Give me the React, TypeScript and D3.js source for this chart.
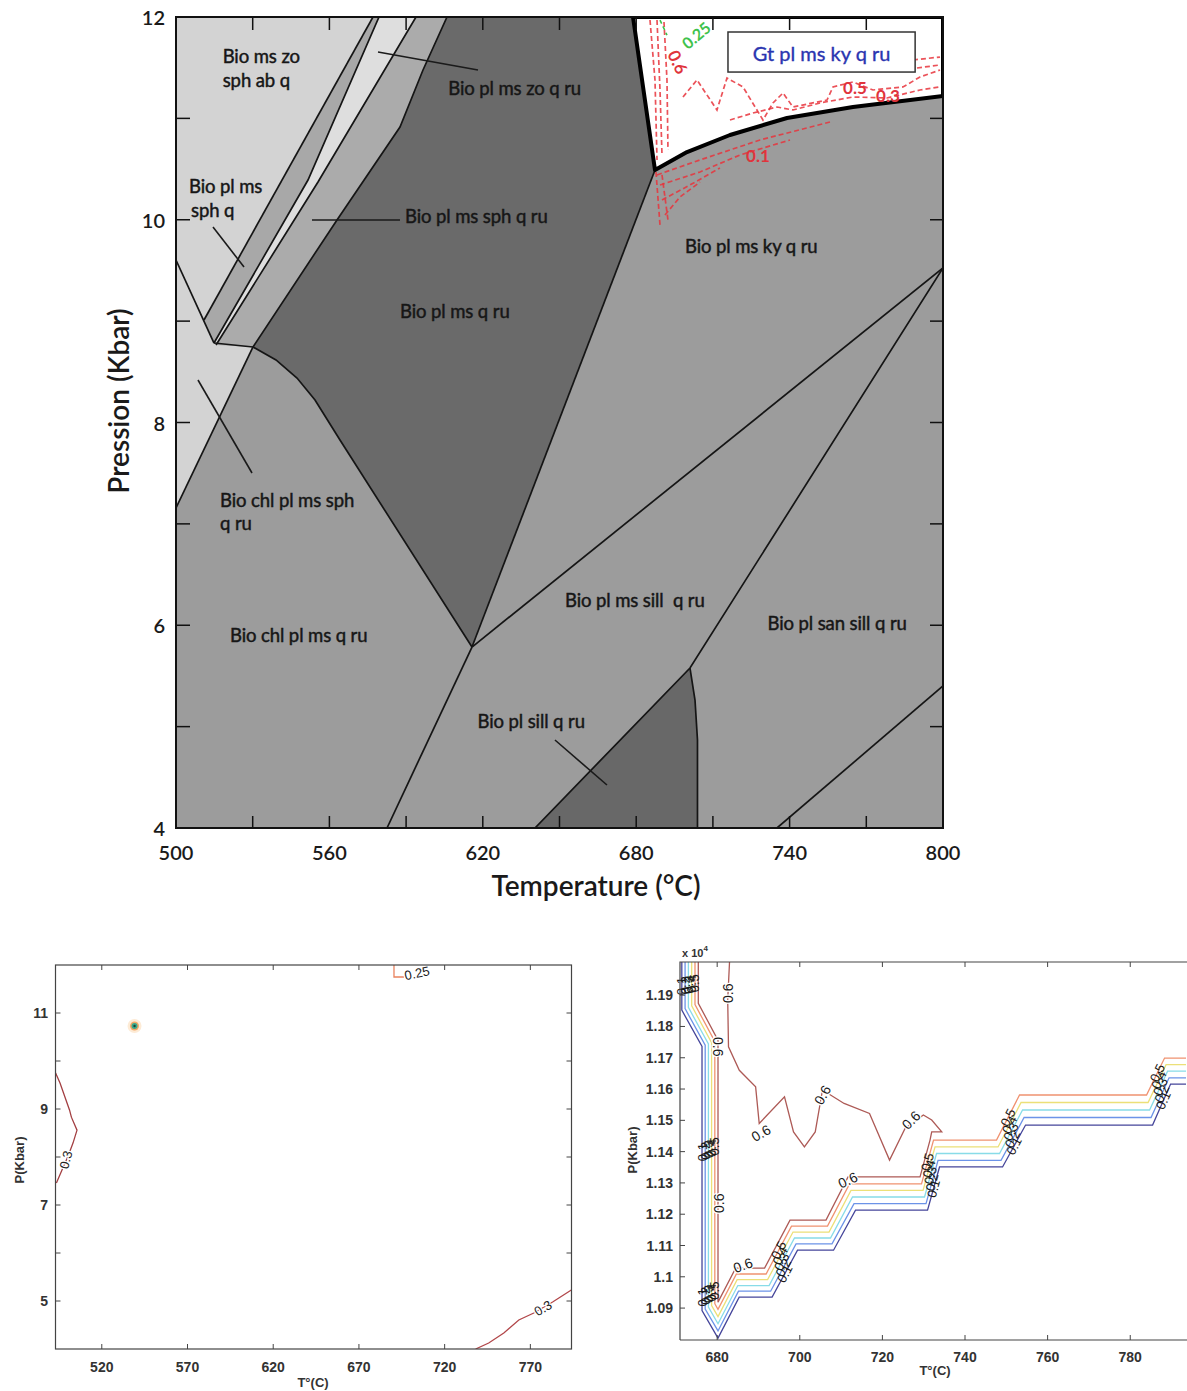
import React from "react";
import * as d3 from "d3";

/* ================= TOP CHART : pseudosection ================= */
const topXTicks = [500, 530, 560, 590, 620, 650, 680, 710, 740, 770, 800];
const topXLabels = [500, 560, 620, 680, 740, 800];
const topYTicks = [4, 5, 6, 7, 8, 9, 10, 11, 12];
const topYLabels = [4, 6, 8, 10, 12];

// fields (T in °C, P in kbar)
const fieldLightTopT = [500, 577.05, 510.95, 500];
const fieldLightTopP = [12, 12, 9.011, 9.603];
const fieldLightMidT = [500, 514.86, 530.12, 500];
const fieldLightMidP = [9.603, 8.784, 8.745, 7.157];
const fieldStripT = [514.86, 551.63, 579.4, 593.87, 555.54, 515.65];
const fieldStripP = [8.784, 10.392, 12, 12, 10.372, 8.765];
const fieldSphT = [510.95, 577.05, 579.4, 551.63, 514.86];
const fieldSphP = [9.011, 12, 12, 10.392, 8.784];
const fieldZoT = [515.65, 555.54, 593.87, 606.0, 596.61, 587.61, 562.97, 530.12];
const fieldZoP = [8.765, 10.372, 12, 12, 11.477, 10.915, 9.998, 8.745];
const fieldRuT = [530.12, 562.97, 587.61, 596.61, 606.0, 678.75, 687.35, 615.77, 564.14, 554.37, 547.33, 539.11];
const fieldRuP = [8.745, 9.998, 10.915, 11.477, 12, 12, 10.491, 5.785, 7.827, 8.222, 8.439, 8.617];
const fieldSillT = [640.41, 701.04, 703.0, 703.97, 703.97];
const fieldSillP = [4, 5.578, 5.262, 4.868, 4];
const fieldGtT = [678.75, 800, 800, 764.79, 738.98, 716.68, 699.87, 687.35];
const fieldGtP = [12, 12, 11.221, 11.112, 11.004, 10.836, 10.668, 10.491];

// reaction lines
const lineL0T = [500, 514.86];
const lineL0P = [9.603, 8.784];
const lineHT = [514.86, 530.12];
const lineHP = [8.784, 8.745];
const lineAT = [510.95, 577.05];
const lineAP = [9.011, 12];
const lineBT = [514.86, 551.63, 579.4];
const lineBP = [8.784, 10.392, 12];
const lineCT = [515.65, 555.54, 593.87];
const lineCP = [8.765, 10.372, 12];
const lineDT = [530.12, 562.97, 587.61, 596.61, 606.0];
const lineDP = [8.745, 9.998, 10.915, 11.477, 12];
const lineChlT = [500, 530.12];
const lineChlP = [7.157, 8.745];
const lineVLT = [530.12, 539.11, 547.33, 554.37, 564.14, 615.77];
const lineVLP = [8.745, 8.617, 8.439, 8.222, 7.827, 5.785];
const lineVRT = [687.35, 615.77];
const lineVRP = [10.491, 5.785];
const lineKyT = [615.77, 800];
const lineKyP = [5.785, 9.524];
const lineLowT = [615.77, 582.53];
const lineLowP = [5.785, 4];
const lineSanT = [800, 701.04, 640.41];
const lineSanP = [9.524, 5.578, 4];
const lineTriT = [701.04, 703.0, 703.97, 703.97];
const lineTriP = [5.578, 5.262, 4.868, 4];
const lineBrT = [735.07, 800];
const lineBrP = [4, 5.401];

// leader lines
const leaderT0 = [579.01, 514.47, 553.19, 508.6, 648.23];
const leaderP0 = [11.655, 9.928, 9.998, 8.419, 4.868];
const leaderT1 = [618.12, 526.6, 587.61, 529.73, 668.57];
const leaderP1 = [11.477, 9.534, 9.998, 7.502, 4.424];

// field names
const phaseNames = ["Bio ms zo", "sph ab q", "Bio pl ms zo q ru", "Bio pl ms", "sph q", "Bio pl ms sph q ru",
  "Bio pl ms q ru", "Bio pl ms ky q ru", "Bio chl pl ms sph", "q ru", "Bio chl pl ms q ru",
  "Bio pl ms sill  q ru", "Bio pl san sill q ru", "Bio pl sill q ru"];
const phaseT = [518.27, 518.27, 606.5, 505.08, 505.87, 589.57, 587.61, 699.08, 517.21, 517.21, 521.12, 652.15, 731.36, 617.93];
const phaseP = [11.546, 11.309, 11.231, 10.264, 10.027, 9.968, 9.031, 9.672, 7.166, 6.94, 5.835, 6.18, 5.953, 4.986];

// garnet box
const gtBoxT = [715.9, 789.1];
const gtBoxP = [11.852, 11.457];
const gtBoxText = "Gt pl ms ky q ru";

// red dashed isopleths in / near the garnet field
const isoV1T = [685.4, 687.35, 688.14];
const isoV1P = [11.97, 11.379, 10.59];
const isoV2T = [688.14, 689.31, 690.09];
const isoV2P = [11.97, 11.28, 10.639];
const isoV3T = [690.87, 692.04, 692.43];
const isoV3P = [11.951, 11.379, 10.688];
const isoW1T = [698.3, 703.77, 711.59, 715.51, 721.77, 729.59, 733.5, 737.41, 741.33, 754.62, 756.97, 764.79, 772.61, 784.35, 791.0, 798.82];
const isoW1P = [11.211, 11.379, 11.083, 11.398, 11.31, 10.984, 11.152, 11.25, 11.112, 11.181, 11.31, 11.359, 11.28, 11.31, 11.408, 11.477];
const isoW2T = [716.68, 725.68, 735.07, 741.33, 751.89, 764.79, 778.09, 791.0, 798.82];
const isoW2P = [10.984, 11.053, 11.112, 11.083, 11.152, 11.211, 11.201, 11.28, 11.31];
const isoW3T = [788.26, 798.82];
const isoW3P = [11.576, 11.605];
const isoW4T = [789.83, 798.82];
const isoW4P = [11.497, 11.527];
const isoB1T = [688.14, 704.95, 728.42, 755.8];
const isoB1P = [10.442, 10.59, 10.787, 10.964];
const isoB2T = [689.31, 704.95, 720.59, 740.15];
const isoB2P = [10.343, 10.471, 10.639, 10.787];
const isoB3T = [690.09, 701.04, 712.77];
const isoB3P = [10.195, 10.343, 10.511];
const isoB4T = [691.26, 697.13, 704.95];
const isoB4P = [10.047, 10.225, 10.372];
const isoBV1T = [687.74, 689.31];
const isoBV1P = [10.471, 9.949];
const isoBV2T = [690.09, 692.43];
const isoBV2P = [10.442, 9.998];
const isoGreenT = [689.31, 692.04];
const isoGreenP = [11.97, 11.822];
const isoLabels = ["0.6", "0.5", "0.3", "0.1"];
const isoLabelT = [696.35, 765.57, 778.48, 727.63];
const isoLabelP = [11.556, 11.3, 11.221, 10.629];
const isoLabelRot = [65, 0, 0, 0];
const isoGreenLabel = "0.25";
const isoGreenLabelT = 703.35;
const isoGreenLabelP = 11.822;

/* ================= BOTTOM LEFT ================= */
const blXTicks = [520, 570, 620, 670, 720, 770];
const blYTicks = [5, 6, 7, 8, 9, 10, 11];
const blYLabels = [5, 7, 9, 11];
const bl03aT = [493.06, 495.63, 501.17, 502.27, 505.54, 503.21, 500.12, 496.79, 493.53];
const bl03aP = [9.75, 9.54, 8.98, 8.83, 8.56, 8.29, 8.0, 7.73, 7.46];
const bl03bT = [738.06, 745.7, 754.51, 763.26, 772.01, 782.98, 793.9];
const bl03bP = [4.0, 4.125, 4.333, 4.604, 4.75, 4.979, 5.229];
const bl025T = [690.45, 690.45, 696.3];
const bl025P = [12, 11.75, 11.75];
const blLabels = ["0.3", "0.3", "0.25"];
const blLabelT = [499.1, 777.4, 703.9];
const blLabelP = [7.94, 4.85, 11.83];
const blLabelRot = [-75, -30, -12];
const blDotT = 539.1;
const blDotP = 10.73;

/* ================= BOTTOM RIGHT ================= */
const brXTicks = [680, 700, 720, 740, 760, 780];
const brYTicks = [1.09, 1.1, 1.11, 1.12, 1.13, 1.14, 1.15, 1.16, 1.17, 1.18, 1.19];
const brYLabels = ["1.09", "1.1", "1.11", "1.12", "1.13", "1.14", "1.15", "1.16", "1.17", "1.18", "1.19"];

const br06T = [675.43, 675.43, 680.2, 680.2, 684.49, 691.48, 697.63, 706.35, 711.68, 729.11, 731.53, 731.94, 734.37, 731.94, 729.91, 725.48, 721.73, 716.88, 710.73, 705.5, 703.74, 701.12, 698.48, 696.3, 690.18, 689.31, 685.36, 682.74, 682.55, 682.99];
const br06P = [1.2006, 1.1874, 1.1756, 1.0919, 1.1028, 1.1028, 1.1181, 1.1181, 1.1319, 1.1319, 1.1437, 1.1463, 1.1463, 1.1501, 1.1517, 1.1474, 1.1373, 1.1522, 1.1554, 1.1597, 1.1463, 1.1415, 1.1463, 1.1575, 1.149, 1.1607, 1.166, 1.1735, 1.1884, 1.2006];
const br05T = [674.63, 674.63, 679.43, 679.43, 680.2, 684.66, 691.85, 697.99, 706.71, 712.04, 729.47, 732.38, 747.63, 753.2, 783.95, 788.31, 793.5];
const br05P = [1.2006, 1.187, 1.1752, 1.0914, 1.0896, 1.1009, 1.1009, 1.1162, 1.1162, 1.1297, 1.1297, 1.1437, 1.1437, 1.1581, 1.1581, 1.1699, 1.1699];
const br04T = [673.83, 673.83, 678.65, 678.65, 680.2, 684.83, 692.21, 698.36, 707.08, 712.4, 729.84, 732.74, 748.0, 753.57, 784.32, 788.67, 793.5];
const br04P = [1.2006, 1.1866, 1.1748, 1.0908, 1.0873, 1.0991, 1.0991, 1.1143, 1.1143, 1.1276, 1.1276, 1.1415, 1.1415, 1.1557, 1.1557, 1.1678, 1.1678];
const br03T = [673.03, 673.03, 677.88, 677.88, 680.2, 685.0, 692.57, 698.72, 707.44, 712.77, 730.2, 733.11, 748.36, 753.93, 784.68, 789.04, 793.5];
const br03P = [1.2006, 1.1861, 1.1744, 1.0903, 1.085, 1.0972, 1.0972, 1.1124, 1.1124, 1.1255, 1.1255, 1.1394, 1.1394, 1.1533, 1.1533, 1.1657, 1.1657];
const br02T = [672.23, 672.23, 677.1, 677.1, 680.2, 685.16, 692.94, 699.09, 707.8, 713.13, 730.56, 733.47, 748.72, 754.3, 785.04, 789.4, 793.5];
const br02P = [1.2006, 1.1857, 1.174, 1.0897, 1.0827, 1.0954, 1.0954, 1.1105, 1.1105, 1.1234, 1.1234, 1.1372, 1.1372, 1.1509, 1.1509, 1.1636, 1.1636];
const br01T = [671.44, 671.44, 676.33, 676.33, 680.2, 685.33, 693.3, 699.45, 708.17, 713.49, 730.93, 733.83, 749.09, 754.66, 785.41, 789.77, 793.5];
const br01P = [1.2006, 1.1852, 1.1736, 1.0892, 1.0804, 1.0935, 1.0935, 1.1085, 1.1085, 1.1213, 1.1213, 1.1351, 1.1351, 1.1485, 1.1485, 1.1616, 1.1616];
const brLevelNames = ["0.1", "0.2", "0.3", "0.4", "0.5"];
// label clusters: segment index and fraction along it
const brClusterSeg = [0, 2, 2, 6, 10, 12, 14];
const brClusterFrac = [0.5, 0.4, 0.95, 0.5, 0.5, 0.5, 0.6];
const br06LabelT = [682.55, 680.1, 680.54, 690.61, 705.5, 726.93, 711.63, 686.25];
const br06LabelP = [1.1906, 1.1735, 1.1235, 1.1459, 1.1581, 1.1501, 1.1309, 1.1037];
const br06LabelRot = [-90, 90, -90, -30, -60, -45, -25, -20];

const FONT = "Lato, 'Open Sans', 'DejaVu Sans', sans-serif";
const SFONT = "'Liberation Sans', Arial, 'DejaVu Sans', sans-serif";

type Sc = (v: number) => number;

function toPath(Ts: number[], Ps: number[], sx: Sc, sy: Sc, closed = false): string {
  const d = d3.line()(Ts.map((t, i) => [sx(t), sy(Ps[i])] as [number, number])) || "";
  return closed ? d + "Z" : d;
}

function labelOn(Ts: number[], Ps: number[], seg: number, f: number, sx: Sc, sy: Sc) {
  const x0 = sx(Ts[seg]), y0 = sy(Ps[seg]), x1 = sx(Ts[seg + 1]), y1 = sy(Ps[seg + 1]);
  let a = (Math.atan2(y1 - y0, x1 - x0) * 180) / Math.PI;
  if (a >= 90) a -= 180;
  if (a < -90) a += 180;
  return { x: x0 + (x1 - x0) * f, y: y0 + (y1 - y0) * f, a };
}

export default function App() {
  /* ---------- top ---------- */
  const xT = d3.scaleLinear().domain([500, 800]).range([176, 943]);
  const yT = d3.scaleLinear().domain([4, 12]).range([828, 17]);
  const fields = [
    { T: fieldLightTopT, P: fieldLightTopP, fill: "#d3d3d3" },
    { T: fieldLightMidT, P: fieldLightMidP, fill: "#d3d3d3" },
    { T: fieldStripT, P: fieldStripP, fill: "#dedede" },
    { T: fieldSphT, P: fieldSphP, fill: "#a8a8a8" },
    { T: fieldZoT, P: fieldZoP, fill: "#ababab" },
    { T: fieldRuT, P: fieldRuP, fill: "#6a6a6a" },
    { T: fieldSillT, P: fieldSillP, fill: "#686868" },
    { T: fieldGtT, P: fieldGtP, fill: "#ffffff" },
  ];
  const lines = [
    [lineL0T, lineL0P], [lineHT, lineHP], [lineAT, lineAP], [lineBT, lineBP], [lineCT, lineCP],
    [lineDT, lineDP], [lineChlT, lineChlP], [lineVLT, lineVLP], [lineVRT, lineVRP], [lineKyT, lineKyP],
    [lineLowT, lineLowP], [lineSanT, lineSanP], [lineTriT, lineTriP], [lineBrT, lineBrP],
  ];
  const isoRed = [
    [isoV1T, isoV1P], [isoV2T, isoV2P], [isoV3T, isoV3P], [isoW1T, isoW1P], [isoW2T, isoW2P],
    [isoW3T, isoW3P], [isoW4T, isoW4P], [isoB1T, isoB1P], [isoB2T, isoB2P], [isoB3T, isoB3P],
    [isoB4T, isoB4P], [isoBV1T, isoBV1P], [isoBV2T, isoBV2P],
  ];

  /* ---------- bottom left ---------- */
  const xL = d3.scaleLinear().domain([493, 794]).range([55.5, 571.5]);
  const yL = d3.scaleLinear().domain([4, 12]).range([1349, 965]);

  /* ---------- bottom right ---------- */
  const xR = d3.scaleLinear().domain([671, 793.5]).range([680, 1186]);
  const yR = d3.scaleLinear().domain([1.0798, 1.2006]).range([1340, 962]);
  const brLevels = [
    { T: br01T, P: br01P, c: "#45459a" },
    { T: br02T, P: br02P, c: "#6c93e8" },
    { T: br03T, P: br03P, c: "#88dce8" },
    { T: br04T, P: br04P, c: "#ece078" },
    { T: br05T, P: br05P, c: "#f09270" },
  ];

  return (
    <svg width={1187} height={1391} style={{ position: "absolute", left: 0, top: 0, background: "#fff" }}>
      <defs>
        <clipPath id="topClip">
          <rect x={176} y={17} width={767} height={811} />
        </clipPath>
        <clipPath id="blClip">
          <rect x={55.5} y={965} width={516} height={384} />
        </clipPath>
        <clipPath id="brClip">
          <rect x={680} y={962} width={506} height={378} />
        </clipPath>
      </defs>

      {/* ===================== TOP CHART ===================== */}
      <g clipPath="url(#topClip)">
        <rect x={176} y={17} width={767} height={811} fill="#9c9c9c" />
        {fields.map((f, i) => (
          <path key={"f" + i} d={toPath(f.T, f.P, xT, yT, true)} fill={f.fill} stroke="none" />
        ))}
        {isoRed.map((l, i) => (
          <path key={"iso" + i} d={toPath(l[0], l[1], xT, yT)} fill="none" stroke="#e8343c"
            strokeWidth={1.7} strokeDasharray="5 3" opacity={0.85} />
        ))}
        <path d={toPath(isoGreenT, isoGreenP, xT, yT)} fill="none" stroke="#3bc24a" strokeWidth={1.6} strokeDasharray="4 3" />
        {lines.map((l, i) => (
          <path key={"l" + i} d={toPath(l[0], l[1], xT, yT)} fill="none" stroke="#151515" strokeWidth={1.7} />
        ))}
        <path d={toPath(fieldGtT, fieldGtP, xT, yT, true)} fill="none" stroke="#000" strokeWidth={4} strokeLinejoin="round" />
        {leaderT0.map((t, i) => (
          <line key={"ld" + i} x1={xT(t)} y1={yT(leaderP0[i])} x2={xT(leaderT1[i])} y2={yT(leaderP1[i])}
            stroke="#1a1a1a" strokeWidth={1.6} />
        ))}
      </g>

      {/* ticks */}
      {topXTicks.map((t) => (
        <g key={"tx" + t}>
          <line x1={xT(t)} x2={xT(t)} y1={828} y2={816} stroke="#111" strokeWidth={1.5} />
          <line x1={xT(t)} x2={xT(t)} y1={17} y2={30} stroke="#111" strokeWidth={1.5} />
        </g>
      ))}
      {topYTicks.map((p) => (
        <g key={"ty" + p}>
          <line x1={176} x2={190} y1={yT(p)} y2={yT(p)} stroke="#111" strokeWidth={1.5} />
          <line x1={943} x2={930} y1={yT(p)} y2={yT(p)} stroke="#111" strokeWidth={1.5} />
        </g>
      ))}
      <rect x={176} y={17} width={767} height={811} fill="none" stroke="#111" strokeWidth={2} />

      {/* garnet box */}
      <rect x={xT(gtBoxT[0])} y={yT(gtBoxP[0])} width={xT(gtBoxT[1]) - xT(gtBoxT[0])}
        height={yT(gtBoxP[1]) - yT(gtBoxP[0])} fill="#fff" stroke="#333" strokeWidth={1.5} />
      <text x={(xT(gtBoxT[0]) + xT(gtBoxT[1])) / 2} y={(yT(gtBoxP[0]) + yT(gtBoxP[1])) / 2 + 1}
        textAnchor="middle" dominantBaseline="central" fontFamily={FONT} fontSize={20} fill="#2a35b0"
        stroke="#2a35b0" strokeWidth={0.35}>
        {gtBoxText}
      </text>

      {/* isopleth labels */}
      {isoLabels.map((s, i) => (
        <text key={"il" + i} x={xT(isoLabelT[i])} y={yT(isoLabelP[i])} textAnchor="middle" dominantBaseline="central"
          transform={`rotate(${isoLabelRot[i]} ${xT(isoLabelT[i])} ${yT(isoLabelP[i])})`}
          fontFamily={FONT} fontSize={17} fontWeight={700} fill="#e0343c">
          {s}
        </text>
      ))}
      <text x={xT(isoGreenLabelT)} y={yT(isoGreenLabelP)} textAnchor="middle" dominantBaseline="central"
        transform={`rotate(-40 ${xT(isoGreenLabelT)} ${yT(isoGreenLabelP)})`}
        fontFamily={FONT} fontSize={16} fontWeight={700} fill="#3fc24c">
        {isoGreenLabel}
      </text>

      {/* field names */}
      {phaseNames.map((s, i) => (
        <text key={"pn" + i} x={xT(phaseT[i])} y={yT(phaseP[i])} fontFamily={FONT} fontSize={18.5}
          fill="#161616" stroke="#161616" strokeWidth={0.45} letterSpacing={-0.1} style={{ whiteSpace: "pre" }}>
          {s}
        </text>
      ))}

      {/* tick labels */}
      {topXLabels.map((t) => (
        <text key={"xl" + t} x={xT(t)} y={860} textAnchor="middle" fontFamily={FONT} fontSize={20}
          fontWeight={600} fill="#1a1a1a">
          {t}
        </text>
      ))}
      {topYLabels.map((p) => (
        <text key={"yl" + p} x={165} y={yT(p)} textAnchor="end" dominantBaseline="central" fontFamily={FONT}
          fontSize={20} fontWeight={600} fill="#1a1a1a">
          {p}
        </text>
      ))}
      <text x={596} y={896} textAnchor="middle" fontFamily={FONT} fontSize={28} fontWeight={600} fill="#1a1a1a">
        Temperature (°C)
      </text>
      <text x={118} y={401} textAnchor="middle" dominantBaseline="central" transform="rotate(-90 118 401)"
        fontFamily={FONT} fontSize={28} fontWeight={600} fill="#1a1a1a">
        Pression (Kbar)
      </text>

      {/* ===================== BOTTOM LEFT ===================== */}
      <g clipPath="url(#blClip)">
        <path d={toPath(bl03aT, bl03aP, xL, yL)} fill="none" stroke="#a33f42" strokeWidth={1.3} />
        <path d={toPath(bl03bT, bl03bP, xL, yL)} fill="none" stroke="#b2474a" strokeWidth={1.3} />
        <path d={toPath(bl025T, bl025P, xL, yL)} fill="none" stroke="#e9825e" strokeWidth={1.3} />
      </g>
      <circle cx={xL(blDotT)} cy={yL(blDotP)} r={7} fill="#fdebd6" />
      <circle cx={xL(blDotT)} cy={yL(blDotP)} r={4.5} fill="#f2a866" />
      <circle cx={xL(blDotT)} cy={yL(blDotP)} r={3} fill="#3aa88a" />
      <circle cx={xL(blDotT)} cy={yL(blDotP)} r={1.2} fill="#17453a" />
      {blLabels.map((s, i) => (
        <text key={"bll" + i} x={xL(blLabelT[i])} y={yL(blLabelP[i])} textAnchor="middle" dominantBaseline="central"
          transform={`rotate(${blLabelRot[i]} ${xL(blLabelT[i])} ${yL(blLabelP[i])})`}
          fontFamily={SFONT} fontSize={13} fill="#222" stroke="#fff" strokeWidth={2.5} paintOrder="stroke">
          {s}
        </text>
      ))}
      {blXTicks.map((t) => (
        <g key={"blx" + t}>
          <line x1={xL(t)} x2={xL(t)} y1={1349} y2={1344} stroke="#444" />
          <line x1={xL(t)} x2={xL(t)} y1={965} y2={970} stroke="#444" />
          <text x={xL(t)} y={1372} textAnchor="middle" fontFamily={SFONT} fontSize={14} fontWeight={700} fill="#333">
            {t}
          </text>
        </g>
      ))}
      {blYTicks.map((p) => (
        <g key={"bly" + p}>
          <line x1={55.5} x2={60.5} y1={yL(p)} y2={yL(p)} stroke="#444" />
          <line x1={571.5} x2={566.5} y1={yL(p)} y2={yL(p)} stroke="#444" />
        </g>
      ))}
      {blYLabels.map((p) => (
        <text key={"blyl" + p} x={48} y={yL(p)} textAnchor="end" dominantBaseline="central" fontFamily={SFONT}
          fontSize={14} fontWeight={700} fill="#333">
          {p}
        </text>
      ))}
      <rect x={55.5} y={965} width={516} height={384} fill="none" stroke="#444" strokeWidth={1.2} />
      <text x={313} y={1387} textAnchor="middle" fontFamily={SFONT} fontSize={13} fontWeight={700} fill="#333">
        T°(C)
      </text>
      <text x={19} y={1160} textAnchor="middle" dominantBaseline="central" transform="rotate(-90 19 1160)"
        fontFamily={SFONT} fontSize={13} fontWeight={700} fill="#333">
        P(Kbar)
      </text>

      {/* ===================== BOTTOM RIGHT ===================== */}
      <g clipPath="url(#brClip)">
        {brLevels.map((l, i) => (
          <path key={"brl" + i} d={toPath(l.T, l.P, xR, yR)} fill="none" stroke={l.c} strokeWidth={1.3} />
        ))}
        <path d={toPath(br06T, br06P, xR, yR)} fill="none" stroke="#ad5a56" strokeWidth={1.3} />
      </g>
      {brLevels.map((l, i) =>
        brClusterSeg.map((seg, j) => {
          const p = labelOn(l.T, l.P, seg, brClusterFrac[j], xR, yR);
          return (
            <text key={`brlab${i}-${j}`} x={p.x} y={p.y} textAnchor="middle" dominantBaseline="central"
              transform={`rotate(${p.a} ${p.x} ${p.y})`} fontFamily={SFONT} fontSize={13} fill="#1a1a1a">
              {brLevelNames[i]}
            </text>
          );
        })
      )}
      {br06LabelT.map((t, i) => (
        <text key={"br6" + i} x={xR(t)} y={yR(br06LabelP[i])} textAnchor="middle" dominantBaseline="central"
          transform={`rotate(${br06LabelRot[i]} ${xR(t)} ${yR(br06LabelP[i])})`} fontFamily={SFONT} fontSize={14}
          fill="#1a1a1a" stroke="#fff" strokeWidth={2.5} paintOrder="stroke">
          0.6
        </text>
      ))}
      {brXTicks.map((t) => (
        <g key={"brx" + t}>
          <line x1={xR(t)} x2={xR(t)} y1={1340} y2={1335} stroke="#444" />
          <line x1={xR(t)} x2={xR(t)} y1={962} y2={967} stroke="#444" />
          <text x={xR(t)} y={1362} textAnchor="middle" fontFamily={SFONT} fontSize={14} fontWeight={700} fill="#333">
            {t}
          </text>
        </g>
      ))}
      {brYTicks.map((p, i) => (
        <g key={"bry" + i}>
          <line x1={680} x2={685} y1={yR(p)} y2={yR(p)} stroke="#444" />
          <text x={673} y={yR(p)} textAnchor="end" dominantBaseline="central" fontFamily={SFONT} fontSize={14}
            fontWeight={700} fill="#333">
            {brYLabels[i]}
          </text>
        </g>
      ))}
      <path d="M680,1340 L680,962 L1187,962" fill="none" stroke="#444" strokeWidth={1.2} />
      <line x1={680} x2={1187} y1={1340} y2={1340} stroke="#444" strokeWidth={1.2} />
      <text x={682} y={957} fontFamily={SFONT} fontSize={11} fontWeight={700} fill="#333">
        x 10<tspan dy={-6} fontSize={8}>4</tspan>
      </text>
      <text x={935} y={1375} textAnchor="middle" fontFamily={SFONT} fontSize={13} fontWeight={700} fill="#333">
        T°(C)
      </text>
      <text x={632} y={1150} textAnchor="middle" dominantBaseline="central" transform="rotate(-90 632 1150)"
        fontFamily={SFONT} fontSize={13} fontWeight={700} fill="#333">
        P(Kbar)
      </text>
    </svg>
  );
}
